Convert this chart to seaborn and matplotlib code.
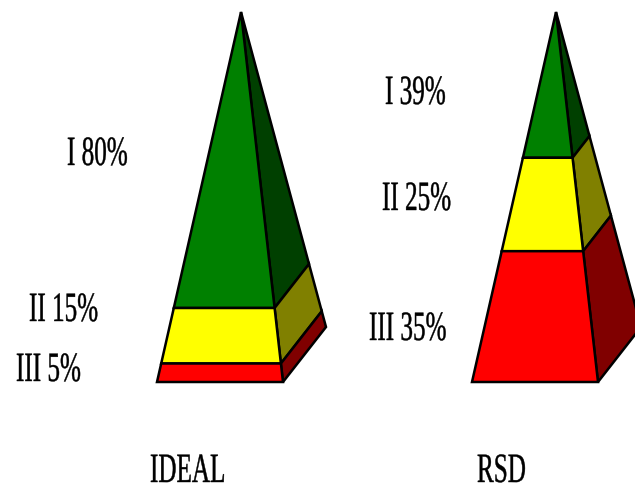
import matplotlib
matplotlib.use("Agg")
import matplotlib.pyplot as plt
import matplotlib.patheffects as pe
from matplotlib.transforms import Affine2D
import numpy as np
import seaborn as sns

# Tier shares, listed from the top of each pyramid downward
tiers = ["I", "II", "III"]
ideal_shares = [80, 15, 5]
rsd_shares = [39, 25, 35]
titles = ["IDEAL", "RSD"]

front_colors = ["#008000", "#FFFF00", "#FF0000"]
side_colors = ["#004000", "#808000", "#800000"]

# Pyramid outlines in pixel-like axes units
TOP_Y, BASE_Y = 12, 382
BACK_BASE_Y = 327
ideal_frame = dict(apex=241, left=157, right=283, back=326)
rsd_frame = dict(apex=556, left=472, right=598, back=641)

ideal_label_pos = [(67, 165), (29, 321), (16, 381)]
rsd_label_pos = [(385, 104), (382, 210), (369, 340)]
title_pos = [(150, 482), (477, 482)]


class Reshaped(pe.AbstractPathEffect):
    """Rescale glyph outlines about the text origin, with a light stroke."""

    def __init__(self, sx, sy, stroke):
        super().__init__()
        self.sx, self.sy, self.stroke = sx, sy, stroke

    def draw_path(self, renderer, gc, tpath, affine, rgbFace=None):
        gc0 = renderer.new_gc()
        gc0.copy_properties(gc)
        gc0.set_linewidth(self.stroke)
        gc0.set_foreground(rgbFace)
        renderer.draw_path(gc0, tpath, Affine2D().scale(self.sx, self.sy) + affine, rgbFace)
        gc0.restore()


def draw_pyramid(ax, shares, frame):
    cuts = np.concatenate([[0], np.cumsum(shares)]) / np.sum(shares)

    def front_y(t):
        return TOP_Y + (BASE_Y - TOP_Y) * t

    def back_y(t):
        return TOP_Y + (BACK_BASE_Y - TOP_Y) * t

    def x_at(corner, t):
        return frame["apex"] + (frame[corner] - frame["apex"]) * t

    for i in range(len(shares)):
        a, b = cuts[i], cuts[i + 1]
        ax.fill(
            [x_at("right", a), x_at("back", a), x_at("back", b), x_at("right", b)],
            [front_y(a), back_y(a), back_y(b), front_y(b)],
            facecolor=side_colors[i], edgecolor="black", linewidth=1.8, joinstyle="miter",
        )
        ax.fill(
            [x_at("left", a), x_at("right", a), x_at("right", b), x_at("left", b)],
            [front_y(a), front_y(a), front_y(b), front_y(b)],
            facecolor=front_colors[i], edgecolor="black", linewidth=1.8, joinstyle="miter",
        )


sns.set_theme(style="white")
plt.rcParams["font.family"] = ["Liberation Serif", "DejaVu Serif"]

fig = plt.figure(figsize=(6.35, 4.87), dpi=100, facecolor="white")
ax = fig.add_axes([0, 0, 1, 1])
ax.set_xlim(0, 635)
ax.set_ylim(487, 0)
ax.axis("off")

draw_pyramid(ax, ideal_shares, ideal_frame)
draw_pyramid(ax, rsd_shares, rsd_frame)

tall_narrow = [Reshaped(1.065, 1.765, 0.3)]
text_style = dict(fontsize=17, color="black", ha="left", va="baseline", path_effects=tall_narrow)

for tier, share, (x, y) in zip(tiers, ideal_shares, ideal_label_pos):
    ax.text(x, y, f"{tier} {share}%", **text_style)
for tier, share, (x, y) in zip(tiers, rsd_shares, rsd_label_pos):
    ax.text(x, y, f"{tier} {share}%", **text_style)
for title, (x, y) in zip(titles, title_pos):
    ax.text(x, y, title, **text_style)

fig.savefig("out.png", dpi=100, facecolor="white")
